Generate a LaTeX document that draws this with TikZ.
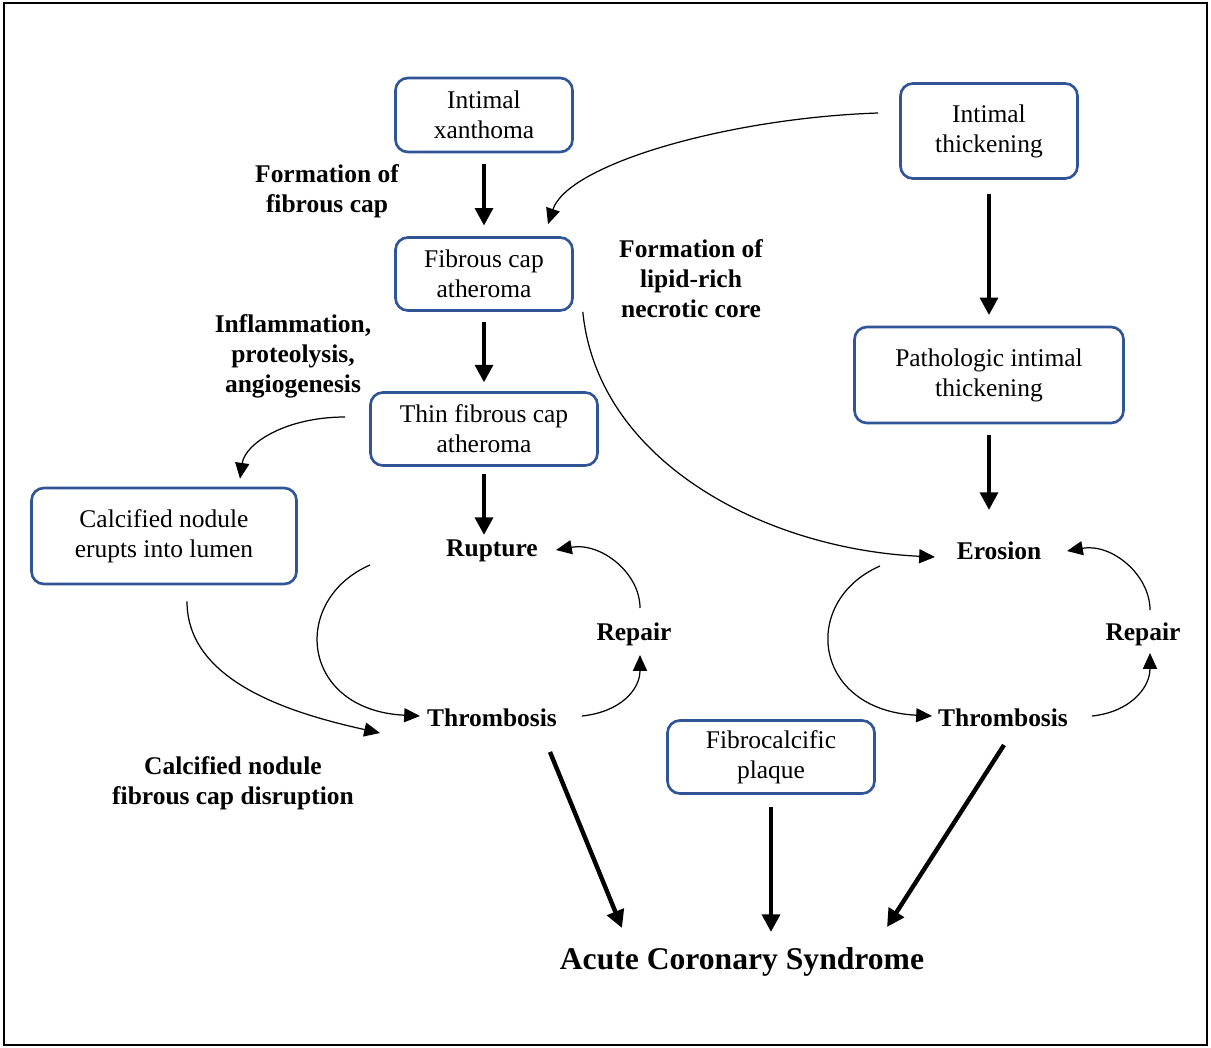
\documentclass[tikz,border=0pt]{standalone}
\usepackage{fontspec}
\setmainfont{Liberation Serif}
\usetikzlibrary{arrows.meta}
\definecolor{bleu}{RGB}{47,85,151}
\begin{document}
\begin{tikzpicture}[x=0.02cm,y=-0.02cm]
        \tikzstyle{boite}=[draw=bleu,line width=1.5pt,rounded corners=7pt,align=center,inner sep=0pt,font=\fontsize{14.5}{17}\selectfont]
        \tikzstyle{etiq}=[align=center,inner sep=2pt,font=\fontsize{14.5}{17}\selectfont\bfseries]
        \tikzstyle{fleche}=[-{Triangle[width=10pt,length=10pt]},line width=2.5pt]
        \tikzstyle{courbe}=[-{Triangle[width=8pt,length=9pt]},line width=0.7pt]
        \useasboundingbox (0,0) rectangle (1211,1048);
        \draw[line width=1.5pt] (4,3) rectangle (1207,1045);
        % boxes
        \node[boite,minimum width=3.54cm,minimum height=1.48cm] (ix) at (484,115) {Intimal\\xanthoma};
        \node[boite,minimum width=3.54cm,minimum height=1.46cm] (fca) at (484,274) {Fibrous cap\\atheroma};
        \node[boite,minimum width=4.54cm,minimum height=1.46cm] (tfca) at (484,429) {Thin fibrous cap\\atheroma};
        \node[boite,minimum width=3.54cm,minimum height=1.9cm] (it) at (989,131) {Intimal\\thickening};
        \node[boite,minimum width=5.38cm,minimum height=1.92cm] (pit) at (989,375) {Pathologic intimal\\thickening};
        \node[boite,minimum width=5.3cm,minimum height=1.92cm] (cn) at (164,536) {Calcified nodule\\erupts into lumen};
        \node[boite,minimum width=4.14cm,minimum height=1.46cm] (fcp) at (771,757) {Fibrocalcific\\plaque};
        % labels
        \node[etiq] (rup) at (492,551) {Rupture};
        \node[etiq] (ero) at (999,551) {Erosion};
        \node[etiq] (thrL) at (492,718) {Thrombosis};
        \node[etiq] (thrR) at (1003,718) {Thrombosis};
        \node[etiq] (repL) at (634,634) {Repair};
        \node[etiq] (repR) at (1143,634) {Repair};
        \node[etiq,font=\fontsize{18}{22}\selectfont\bfseries] (acs) at (742,962) {Acute Coronary Syndrome};
        \node[etiq] (f1) at (327,191) {Formation of\\fibrous cap};
        \node[etiq] (f2) at (691,279) {Formation of\\lipid-rich\\necrotic core};
        \node[etiq] (f3) at (293,356) {Inflammation,\\proteolysis,\\angiogenesis};
        \node[etiq] (f4) at (233,783) {Calcified nodule\\fibrous cap disruption};
        % thick arrows
        \draw[fleche,shorten <=6pt,shorten >=6pt] (ix.south) -- (fca.north);
        \draw[fleche,shorten <=6pt,shorten >=5pt] (fca.south) -- (tfca.north);
        \draw[fleche,shorten <=4pt] (tfca.south) -- ([shift={(-8,-16)}]rup.center);
        \draw[fleche,shorten <=8pt,shorten >=6pt] (it.south) -- (pit.north);
        \draw[fleche,shorten <=6pt] (pit.south) -- ([shift={(-10,-41)}]ero.center);
        \draw[fleche] ([shift={(58,34)}]thrL.center) -- ([shift={(-120,-34)}]acs.center);
        \draw[fleche,shorten <=7pt] (fcp.south) -- ([shift={(29,-30)}]acs.center);
        \draw[fleche] ([shift={(1,27)}]thrR.center) -- ([shift={(145,-35)}]acs.center);
        % thin curves
        \draw[courbe] ([shift={(-21,-18)}]it.west) .. controls +(-150,5) and +(20,-60) .. ([shift={(64,-12)}]fca.north);
        \draw[courbe] ([shift={(9,0)}]fca.south east) .. controls +(15,150) and +(-170,-8) .. ([shift={(-64,6)}]ero.center);
        \draw[courbe] ([shift={(-24,-12)}]tfca.west) .. controls +(-60,0) and +(5,-35) .. ([shift={(76,-8)}]cn.north);
        \draw[courbe] ([shift={(23,16)}]cn.south) .. controls +(0,80) and +(-90,-20) .. ([shift={(-112,15)}]thrL.center);
        \draw[courbe] ([shift={(-122,14)}]rup.center) .. controls +(-80,35) and +(-120,-6) .. ([shift={(-72,-2)}]thrL.center);
        \draw[courbe] ([shift={(90,-2)}]thrL.center) .. controls +(38,-4) and +(0,35) .. ([shift={(6,21)}]repL.center);
        \draw[courbe] ([shift={(6,-26)}]repL.center) .. controls +(0,-35) and +(45,-8) .. ([shift={(64,-1)}]rup.center);
        \draw[courbe] ([shift={(-119,15)}]ero.center) .. controls +(-80,35) and +(-120,-6) .. ([shift={(-71,-2)}]thrR.center);
        \draw[courbe] ([shift={(89,-2)}]thrR.center) .. controls +(38,-4) and +(0,35) .. ([shift={(7,19)}]repR.center);
        \draw[courbe] ([shift={(7,-24)}]repR.center) .. controls +(0,-35) and +(45,-8) .. ([shift={(68,0)}]ero.center);
\end{tikzpicture}
\end{document}
